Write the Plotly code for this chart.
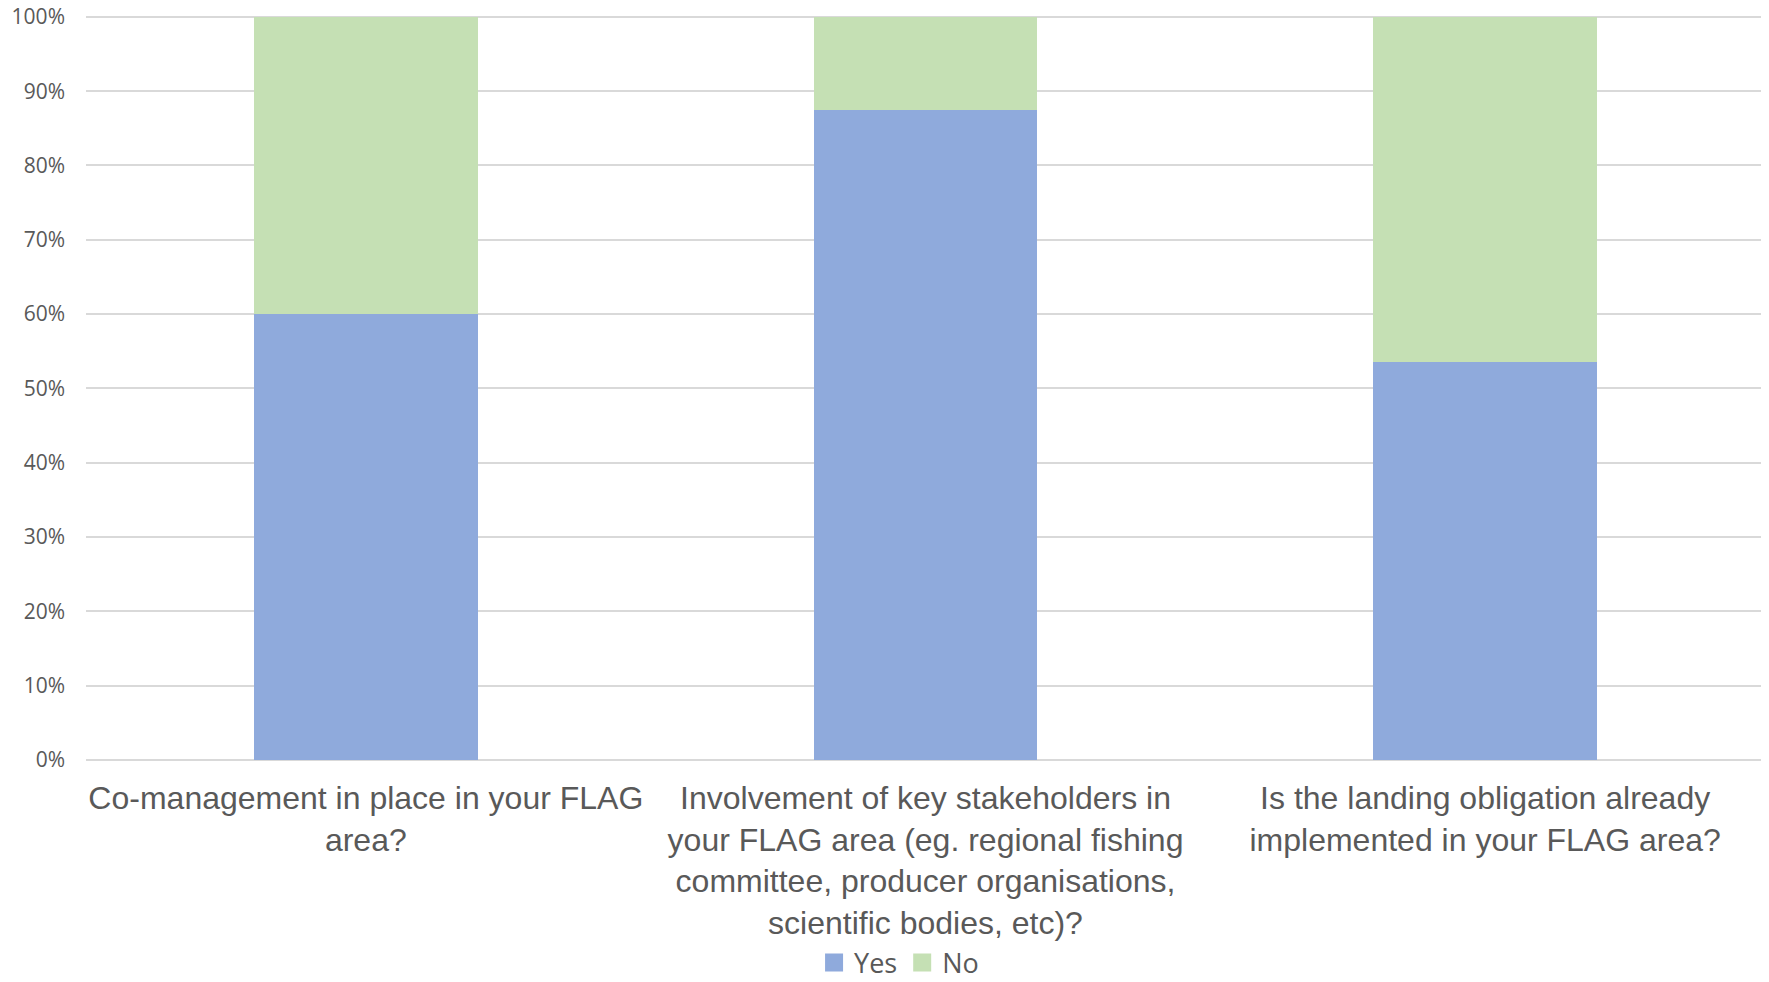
import plotly.graph_objects as go

categories = [
    "Co-management in place in your FLAG<br>area?",
    "Involvement of key stakeholders in<br>your FLAG area (eg. regional fishing<br>committee, producer organisations,<br>scientific bodies, etc)?",
    "Is the landing obligation already<br>implemented in your FLAG area?",
]
series_names = ["Yes", "No"]
series_colors = ["#8FAADC", "#C5E0B4"]
yes_values = [60.0, 87.5, 53.6]
no_values = [40.0, 12.5, 46.4]
y_ticks = [0, 10, 20, 30, 40, 50, 60, 70, 80, 90, 100]

fig = go.Figure()
for name, vals, col in zip(series_names, [yes_values, no_values], series_colors):
    fig.add_trace(go.Bar(name=name, x=categories, y=vals, showlegend=False,
                         marker=dict(color=col, line=dict(width=0))))
# legend entries with larger square swatches
for name, col in zip(series_names, series_colors):
    fig.add_trace(go.Scatter(name=name, x=[None], y=[None], mode="markers",
                             marker=dict(symbol="square", size=16, color=col,
                                         line=dict(width=2, color=col)),
                             showlegend=True))

# page body has an 8px default margin; figure sized to fit the 1769x982 window
fig.update_layout(
    barmode="stack",
    bargap=0.6,
    width=1761,
    height=974,
    margin=dict(l=78, r=4, t=7, b=222, autoexpand=False),
    paper_bgcolor="white",
    plot_bgcolor="white",
    showlegend=True,
    legend=dict(orientation="h", x=0.506, xanchor="center", xref="container",
                y=0.0195, yanchor="middle", yref="container",
                font=dict(family="Open Sans", size=27, color="#595959"),
                itemwidth=30, tracegroupgap=0, traceorder="normal"),
    xaxis=dict(showgrid=False, showline=False, zeroline=False, ticks="", automargin=False,
               tickfont=dict(family="Liberation Sans, Arial", size=32, color="#595959"),
               tickangle=0, ticklabelstandoff=16),
    yaxis=dict(range=[0, 100.25], tickvals=y_ticks, ticktext=[f"{v}%" for v in y_ticks],
               automargin=False, ticklabeloverflow="allow",
               showgrid=True, gridcolor="#D9D9D9", gridwidth=1.5,
               zeroline=True, zerolinecolor="#D9D9D9", zerolinewidth=1.5,
               showline=False, ticks="", ticklabelstandoff=20,
               tickfont=dict(family="Open Sans", size=21, color="#595959")),
)

fig.write_html("out.html")
